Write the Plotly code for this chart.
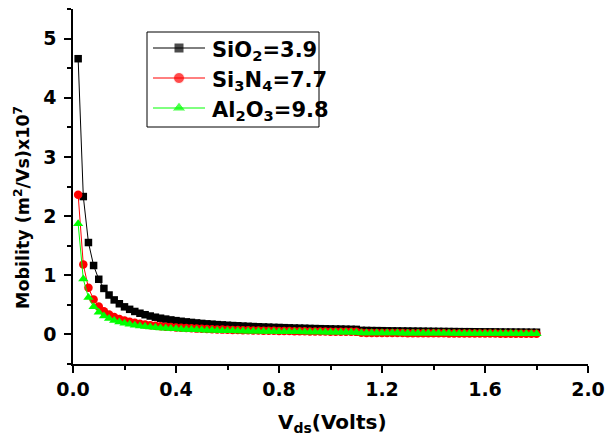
import plotly.graph_objects as go

vds = [0.02, 0.04, 0.06, 0.08, 0.10, 0.12, 0.14, 0.16, 0.18, 0.20,
       0.22, 0.24, 0.26, 0.28, 0.30, 0.32, 0.34, 0.36, 0.38, 0.40,
       0.42, 0.44, 0.46, 0.48, 0.50, 0.52, 0.54, 0.56, 0.58, 0.60,
       0.62, 0.64, 0.66, 0.68, 0.70, 0.72, 0.74, 0.76, 0.78, 0.80,
       0.82, 0.84, 0.86, 0.88, 0.90, 0.92, 0.94, 0.96, 0.98, 1.00,
       1.02, 1.04, 1.06, 1.08, 1.10, 1.12, 1.14, 1.16, 1.18, 1.20,
       1.22, 1.24, 1.26, 1.28, 1.30, 1.32, 1.34, 1.36, 1.38, 1.40,
       1.42, 1.44, 1.46, 1.48, 1.50, 1.52, 1.54, 1.56, 1.58, 1.60,
       1.62, 1.64, 1.66, 1.68, 1.70, 1.72, 1.74, 1.76, 1.78, 1.80]

sio2 = [4.660, 2.330, 1.553, 1.165, 0.932, 0.777, 0.666, 0.583, 0.518, 0.466,
        0.424, 0.388, 0.358, 0.333, 0.311, 0.291, 0.274, 0.259, 0.245, 0.233,
        0.222, 0.212, 0.203, 0.194, 0.186, 0.179, 0.173, 0.166, 0.161, 0.155,
        0.150, 0.146, 0.141, 0.137, 0.133, 0.129, 0.126, 0.123, 0.119, 0.117,
        0.114, 0.111, 0.108, 0.106, 0.104, 0.101, 0.099, 0.097, 0.095, 0.093,
        0.091, 0.090, 0.088, 0.086, 0.085, 0.068, 0.067, 0.065, 0.064, 0.063,
        0.061, 0.060, 0.059, 0.058, 0.057, 0.056, 0.055, 0.054, 0.053, 0.052,
        0.051, 0.050, 0.049, 0.048, 0.047, 0.046, 0.046, 0.045, 0.044, 0.043,
        0.043, 0.042, 0.041, 0.040, 0.040, 0.039, 0.039, 0.038, 0.037, 0.037]

si3n4 = [2.360, 1.180, 0.787, 0.590, 0.472, 0.393, 0.337, 0.295, 0.262, 0.236,
         0.215, 0.197, 0.182, 0.169, 0.157, 0.148, 0.139, 0.131, 0.124, 0.118,
         0.112, 0.107, 0.103, 0.098, 0.094, 0.091, 0.087, 0.084, 0.081, 0.079,
         0.076, 0.074, 0.072, 0.069, 0.067, 0.066, 0.064, 0.062, 0.061, 0.059,
         0.058, 0.056, 0.055, 0.054, 0.052, 0.051, 0.050, 0.049, 0.048, 0.047,
         0.046, 0.045, 0.045, 0.044, 0.043, 0.027, 0.026, 0.026, 0.025, 0.024,
         0.024, 0.023, 0.022, 0.022, 0.021, 0.021, 0.020, 0.020, 0.019, 0.019,
         0.018, 0.018, 0.017, 0.017, 0.016, 0.016, 0.016, 0.015, 0.015, 0.015,
         0.014, 0.014, 0.013, 0.013, 0.013, 0.012, 0.012, 0.012, 0.012, 0.011]

al2o3 = [1.870, 0.935, 0.623, 0.468, 0.374, 0.312, 0.267, 0.234, 0.208, 0.187,
         0.170, 0.156, 0.144, 0.134, 0.125, 0.117, 0.110, 0.104, 0.098, 0.094,
         0.089, 0.085, 0.081, 0.078, 0.075, 0.072, 0.069, 0.067, 0.064, 0.062,
         0.060, 0.058, 0.057, 0.055, 0.053, 0.052, 0.051, 0.049, 0.048, 0.047,
         0.046, 0.045, 0.043, 0.043, 0.042, 0.041, 0.040, 0.039, 0.038, 0.037,
         0.037, 0.036, 0.035, 0.035, 0.034, 0.025, 0.025, 0.024, 0.024, 0.023,
         0.023, 0.022, 0.022, 0.021, 0.021, 0.020, 0.020, 0.020, 0.019, 0.019,
         0.018, 0.018, 0.018, 0.017, 0.017, 0.017, 0.016, 0.016, 0.016, 0.015,
         0.015, 0.015, 0.015, 0.014, 0.014, 0.014, 0.013, 0.013, 0.013, 0.013]

names = ["SiO<sub>2</sub>=3.9", "Si<sub>3</sub>N<sub>4</sub>=7.7", "Al<sub>2</sub>O<sub>3</sub>=9.8"]
colors = ["black", "red", "#00ff00"]
symbols = ["square", "circle", "triangle-up"]
plot_sizes = [7.5, 8.5, 9]
legend_sizes = [10, 11, 12]

FONT = "DejaVu Sans, Liberation Sans, Arial"

W, H = 606, 439
L, R, T, B = 73, 18, 9, 75
X0, X1, Y0, Y1 = L, W - R, T, H - B   # plot area in pixels
PW, PH = X1 - X0, Y1 - Y0


def px(xp):
    return (xp - X0) / PW


def py(yp):
    return (Y1 - yp) / PH


fig = go.Figure()
series = [sio2, si3n4, al2o3]
for ys, nm, c, s, sz in zip(series, names, colors, symbols, plot_sizes):
    fig.add_trace(go.Scatter(x=vds, y=ys, name=nm, mode="lines+markers",
                             line=dict(color=c, width=1),
                             marker=dict(symbol=s, size=sz, color=c),
                             showlegend=False))

# manual legend on a pixel-coordinate overlay axis
row_y = [48, 78, 108]
for yy, c in zip(row_y, colors):
    fig.add_shape(type="line", xref="x2", yref="y2", x0=153, x1=205, y0=yy, y1=yy,
                  line=dict(color=c, width=1))
fig.add_trace(go.Scatter(x=[179, 179, 179], y=row_y, mode="markers", xaxis="x2", yaxis="y2",
                         marker=dict(symbol=symbols, size=legend_sizes, color=colors),
                         showlegend=False, hoverinfo="skip", cliponaxis=False))
for yy, nm in zip(row_y, names):
    fig.add_annotation(text="<b>" + nm + "</b>", xref="paper", yref="paper",
                       x=px(210), y=py(yy + 3),
                       showarrow=False, xanchor="left", yanchor="middle",
                       font=dict(family=FONT, size=21, color="black"))
fig.add_shape(type="rect", xref="x2", yref="y2", x0=147, x1=319, y0=32, y1=127,
              line=dict(color="black", width=1), fillcolor="rgba(0,0,0,0)")

fig.add_annotation(text="<b>V<sub>ds</sub>(Volts)</b>", xref="paper", yref="paper",
                   x=px(332), y=py(423), showarrow=False, xanchor="center", yanchor="middle",
                   font=dict(family=FONT, size=20, color="black"))
fig.add_annotation(text="<b>Mobility (m<sup>2</sup>/Vs)x10<sup>7</sup></b>", xref="paper", yref="paper",
                   x=px(22), y=py(208), showarrow=False, textangle=-90,
                   xanchor="center", yanchor="middle",
                   font=dict(family=FONT, size=17.5, color="black"))

tickfont = dict(family=FONT, size=19, color="black", weight="bold")
fig.update_layout(
    width=W, height=H,
    margin=dict(l=L, r=R, t=T, b=B, pad=0),
    paper_bgcolor="white", plot_bgcolor="white",
    font=dict(family=FONT, size=18, color="black"),
    showlegend=False,
    xaxis=dict(range=[0, 2.0], tickmode="linear", tick0=0, dtick=0.4, tickformat=".1f",
               showline=True, linecolor="black", linewidth=1.5, mirror=False,
               ticks="outside", ticklen=7, tickwidth=1.5, tickcolor="black",
               showgrid=False, zeroline=False, automargin=False,
               minor=dict(dtick=0.2, ticks="outside", ticklen=4, tickwidth=1.5, tickcolor="black"),
               tickfont=tickfont),
    yaxis=dict(range=[-0.5, 5.5], tickmode="linear", tick0=0, dtick=1,
               showline=True, linecolor="black", linewidth=1.5, mirror=False,
               ticks="outside", ticklen=7, tickwidth=1.5, tickcolor="black",
               showgrid=False, zeroline=False, automargin=False, ticklabelstandoff=4,
               minor=dict(dtick=0.5, ticks="outside", ticklen=4, tickwidth=1.5, tickcolor="black"),
               tickfont=tickfont),
    xaxis2=dict(overlaying="x", range=[X0, X1], visible=False, automargin=False, fixedrange=True),
    yaxis2=dict(overlaying="y", range=[Y1, Y0], visible=False, automargin=False, fixedrange=True),
)

fig.write_html("out.html", config={"displayModeBar": False},
               post_script="document.body.style.margin='0';document.body.style.overflow='hidden';")
